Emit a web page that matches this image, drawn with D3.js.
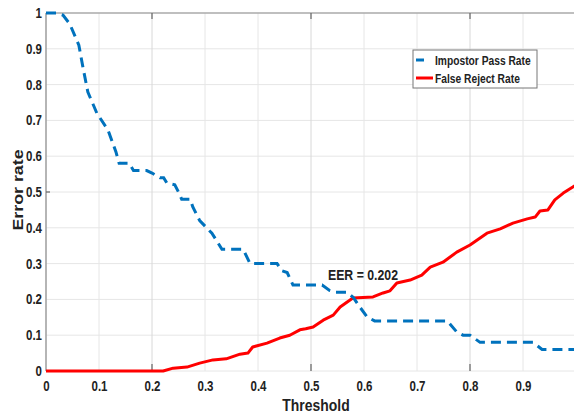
<!DOCTYPE html>
<html>
<head>
<meta charset="utf-8">
<script src="https://cdn.jsdelivr.net/npm/d3@7"></script>
<style>
  body { margin: 0; background: #fff; }
  svg text { font-family: "Liberation Sans", Arial, sans-serif; font-weight: bold; fill: #222; }
</style>
</head>
<body>
<svg id="chart" width="574" height="416"></svg>
<script>
// impostor pass rate (blue dashed)
var iprThreshold = [0, 0.02, 0.032, 0.045, 0.062, 0.07, 0.079, 0.096, 0.117, 0.132, 0.138, 0.157, 0.165, 0.19, 0.2, 0.215,
  0.222, 0.228, 0.243, 0.25, 0.256, 0.272, 0.277, 0.29, 0.313, 0.332, 0.372, 0.385, 0.436, 0.445, 0.455, 0.466,
  0.521, 0.535, 0.545, 0.568, 0.58, 0.592, 0.606, 0.62, 0.757, 0.775, 0.787, 0.8, 0.819, 0.919, 0.936, 1.0];
var iprValues = [1, 1, 0.994, 0.969, 0.91, 0.846, 0.779, 0.72, 0.673, 0.612, 0.58, 0.58, 0.56, 0.56, 0.553, 0.54,
  0.54, 0.525, 0.52, 0.5, 0.48, 0.48, 0.458, 0.42, 0.385, 0.34, 0.34, 0.30, 0.30, 0.28, 0.275, 0.24,
  0.24, 0.225, 0.22, 0.22, 0.205, 0.179, 0.151, 0.14, 0.14, 0.109, 0.10, 0.10, 0.08, 0.08, 0.06, 0.06];

// false reject rate (red)
var frrThreshold = [0, 0.221, 0.24, 0.266, 0.29, 0.315, 0.34, 0.366, 0.381, 0.39, 0.417, 0.441, 0.46, 0.479, 0.49,
  0.504, 0.523, 0.542, 0.555, 0.579, 0.617, 0.636, 0.649, 0.662, 0.687, 0.709, 0.725, 0.749, 0.775, 0.8,
  0.832, 0.857, 0.881, 0.908, 0.923, 0.932, 0.947, 0.96, 0.976, 0.994, 1.0];
var frrValues = [0, 0, 0.008, 0.011, 0.022, 0.031, 0.034, 0.047, 0.05, 0.067, 0.078, 0.092, 0.10, 0.115, 0.118,
  0.123, 0.142, 0.156, 0.179, 0.204, 0.207, 0.218, 0.224, 0.246, 0.254, 0.268, 0.29, 0.304, 0.332, 0.352,
  0.385, 0.397, 0.413, 0.425, 0.43, 0.447, 0.45, 0.478, 0.497, 0.514, 0.52];

var xTicks = [0, 0.1, 0.2, 0.3, 0.4, 0.5, 0.6, 0.7, 0.8, 0.9];
var yTicks = [0, 0.1, 0.2, 0.3, 0.4, 0.5, 0.6, 0.7, 0.8, 0.9, 1];
var markTicks = [0.2, 0.5, 0.8];
var seriesNames = ["Impostor Pass Rate", "False Reject Rate"];
var eerLabel = "EER = 0.202";

// the source picture is squeezed sideways, so text gets a horizontal squash
var squash = "scale(0.82,1)";

var svg = d3.select("#chart"),
    margin = {top: 13, right: -2, bottom: 45, left: 46},
    width = +svg.attr("width") - margin.left - margin.right,
    height = +svg.attr("height") - margin.top - margin.bottom,
    g = svg.append("g").attr("transform", "translate(" + margin.left + "," + margin.top + ")");

var x = d3.scaleLinear().domain([0, 1]).range([0, width]);
var y = d3.scaleLinear().domain([0, 1]).range([height, 0]);

// grid
g.append("g").selectAll("line")
  .data(yTicks).enter().append("line")
    .attr("x1", 0).attr("x2", width)
    .attr("y1", function(d) { return y(d); }).attr("y2", function(d) { return y(d); })
    .attr("stroke", "#e6e6e6").attr("stroke-width", 1);
g.append("g").selectAll("line")
  .data(xTicks).enter().append("line")
    .attr("x1", function(d) { return x(d); }).attr("x2", function(d) { return x(d); })
    .attr("y1", 0).attr("y2", height)
    .attr("stroke", function(d) { return markTicks.indexOf(d) >= 0 ? "#d8d8d8" : "#e6e6e6"; })
    .attr("stroke-width", 1);

// frame (top, left, right)
g.append("line").attr("x1", 0).attr("x2", width).attr("y1", 0).attr("y2", 0)
  .attr("stroke", "#8c8c8c").attr("stroke-width", 1.2);
g.append("line").attr("x1", 0).attr("x2", 0).attr("y1", 0).attr("y2", height)
  .attr("stroke", "#8c8c8c").attr("stroke-width", 1.2);
g.append("line").attr("x1", width).attr("x2", width).attr("y1", 0).attr("y2", height)
  .attr("stroke", "#8c8c8c").attr("stroke-width", 1.2);

// inward tick marks
g.append("g").selectAll("line")
  .data(markTicks).enter().append("line")
    .attr("x1", function(d) { return x(d); }).attr("x2", function(d) { return x(d); })
    .attr("y1", height).attr("y2", height - 7)
    .attr("stroke", "#666").attr("stroke-width", 1.2);
g.append("g").selectAll("line")
  .data(markTicks).enter().append("line")
    .attr("x1", function(d) { return x(d); }).attr("x2", function(d) { return x(d); })
    .attr("y1", 0).attr("y2", 6)
    .attr("stroke", "#666").attr("stroke-width", 1.2);
g.append("line").attr("x1", 0).attr("x2", 4).attr("y1", y(0.5)).attr("y2", y(0.5))
  .attr("stroke", "#666").attr("stroke-width", 1.2);

// axes (labels only)
var xAxis = g.append("g")
    .attr("transform", "translate(0," + height + ")")
    .call(d3.axisBottom(x).tickValues(xTicks).tickSize(0).tickPadding(10)
      .tickFormat(function(d) { return d === 0 ? "0" : d3.format(".1f")(d); }));
var yAxis = g.append("g")
    .call(d3.axisLeft(y).tickValues(yTicks).tickSize(0).tickPadding(4)
      .tickFormat(function(d) { return (d === 0 || d === 1) ? String(d) : d3.format(".1f")(d); }));
xAxis.select(".domain").remove();
yAxis.select(".domain").remove();
xAxis.selectAll("text")
    .attr("fill", "#222").style("font-size", "14px")
    .attr("transform", squash);
yAxis.selectAll("text")
    .attr("fill", "#222").style("font-size", "14px")
    .attr("x", 0)
    .attr("transform", "translate(-4,0) " + squash);

// lines
var iprData = iprThreshold.map(function(t, i) { return [t, iprValues[i]]; });
var frrData = frrThreshold.map(function(t, i) { return [t, frrValues[i]]; });
var line = d3.line()
    .x(function(d) { return x(d[0]); })
    .y(function(d) { return y(d[1]); });

g.append("path")
    .datum(frrData)
    .attr("fill", "none")
    .attr("stroke", "#ff0000")
    .attr("stroke-width", 3)
    .attr("stroke-linejoin", "round")
    .attr("d", line);

g.append("path")
    .datum(iprData)
    .attr("fill", "none")
    .attr("stroke", "#0072bd")
    .attr("stroke-width", 3)
    .attr("stroke-dasharray", "10,6")
    .attr("d", line);

// EER annotation
g.append("text")
    .attr("transform", "translate(" + x(0.532) + "," + y(0.254) + ") " + squash)
    .style("font-size", "15px")
    .attr("fill", "#111")
    .text(eerLabel);

// axis titles
svg.append("text")
    .attr("transform", "translate(316,411) " + squash)
    .attr("text-anchor", "middle")
    .style("font-size", "17px")
    .text("Threshold");

svg.append("text")
    .attr("transform", "translate(23,190) rotate(-90) scale(1.22,1)")
    .attr("text-anchor", "middle")
    .style("font-size", "14.6px")
    .text("Error rate");

// legend
var legend = svg.append("g").attr("transform", "translate(413,50)");
legend.append("rect")
    .attr("width", 124).attr("height", 38)
    .attr("fill", "#fff").attr("stroke", "#777").attr("stroke-width", 1);
var colors = ["#0072bd", "#ff0000"];
var item = legend.selectAll(".item")
    .data(seriesNames).enter().append("g")
    .attr("transform", function(d, i) { return "translate(0," + (10 + i * 18) + ")"; });
item.append("line")
    .attr("x1", 3).attr("x2", function(d, i) { return i === 0 ? 11 : 20; })
    .attr("y1", 0).attr("y2", 0)
    .attr("stroke", function(d, i) { return colors[i]; })
    .attr("stroke-width", 3);
item.append("text")
    .attr("transform", "translate(22,0) " + squash)
    .attr("dy", "0.36em")
    .style("font-size", "12.5px")
    .attr("fill", "#111")
    .text(function(d) { return d; });
</script>
</body>
</html>
